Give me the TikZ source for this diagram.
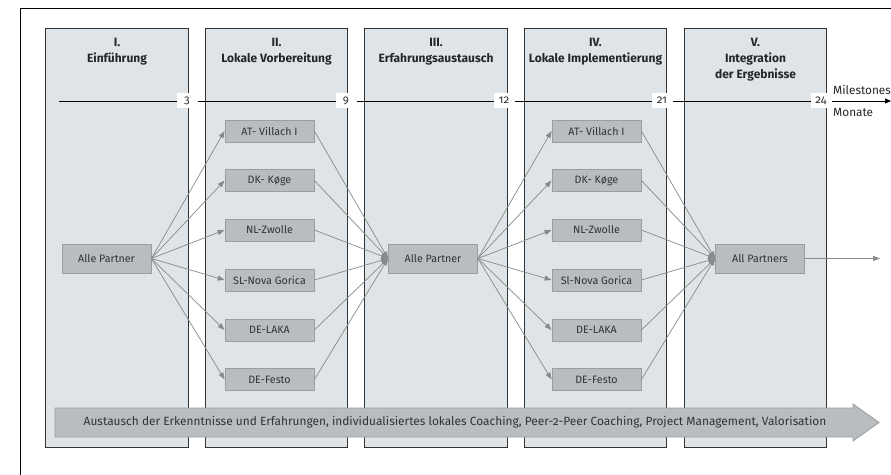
\documentclass[tikz,border=0pt]{standalone}
\usepackage{fontspec}
\setmainfont{Fira Sans}[Numbers=OldStyle]
\usetikzlibrary{arrows.meta}
\definecolor{colfill}{HTML}{DEE4E7}
\definecolor{boxfill}{HTML}{B9BDBF}
\definecolor{boxdraw}{HTML}{9A9EA0}
\definecolor{arrcol}{HTML}{868A8C}
\definecolor{txt}{HTML}{333333}
\tikzset{
  column/.style={draw=black!80, line width=0.9pt, fill=colfill, minimum width=142.5pt, minimum height=419pt, inner sep=0pt},
  title/.style={font=\bfseries\fontsize{12}{16}\selectfont, text=black!85, align=center, anchor=north, inner sep=0pt},
  partner/.style={draw=boxdraw, line width=0.8pt, fill=boxfill, minimum width=89pt, minimum height=22pt, inner sep=0pt, font=\fontsize{10.7}{12}\selectfont, text=txt},
  allp/.style={partner, minimum height=29pt},
  flow/.style={draw=arrcol, line width=0.7pt, -{Triangle[length=7pt,width=5pt]}},
  mlabel/.style={fill=white, inner sep=0pt, minimum width=21pt, minimum height=15pt, font=\fontsize{11.5}{12}\selectfont, text=txt},
  side/.style={font=\fontsize{11.8}{13}\selectfont, text=black!85, anchor=west, inner sep=0pt}
}
\begin{document}
\begin{tikzpicture}[x=1pt,y=-1pt]
\useasboundingbox (0,0) rectangle (891,474);
\fill[white] (0,0) rectangle (891,474);
% outer frame
\draw[line width=1pt, black] (20,480) -- (20,8) -- (900,8);
% columns
\node[column] (c1) at (117,237.5) {};
\node[column] (c2) at (276.5,237.5) {};
\node[column] (c3) at (436,237.5) {};
\node[column] (c4) at (595.5,237.5) {};
\node[column] (c5) at (755.5,237.5) {};
% titles
\node[title] (t1) at (117,37.5) {I.\\Einführung};
\node[title] (t2) at (276.5,37.5) {II.\\Lokale Vorbereitung};
\node[title] (t3) at (436,37.5) {III.\\Erfahrungsaustausch};
\node[title] (t4) at (595.5,37.5) {IV.\\Lokale Implementierung};
\node[title] (t5) at (755.5,37.5) {V.\\Integration\\der Ergebnisse};
% milestone line
\coordinate (ms) at (59,101);
\coordinate (me) at (891,101);
\draw[line width=0.9pt, black, -{Triangle[length=6pt,width=5pt]}] (ms) -- (me);
\node[mlabel] (m1) at (187,100.5) {3};
\node[mlabel] (m2) at (346,100.5) {9};
\node[mlabel] (m3) at (504,100.5) {12};
\node[mlabel] (m4) at (662,100.5) {21};
\node[mlabel] (m5) at (821,100.5) {24};
\node[side] (mst) at (833,90) {Milestones};
\node[side] (mon) at (833,113) {Monate};
% partner boxes
\node[allp] (ap1) at (106.5,258.5) {Alle Partner};
\node[allp] (ap3) at (433,258.5) {Alle Partner};
\node[allp] (ap5) at (760,258.5) {All Partners};
\foreach \n/\t/\y in {a/AT- Villach I/131, b/DK- Køge/180.5, c/NL-Zwolle/230, d/SL-Nova Gorica/280, e/DE-LAKA/330, f/DE-Festo/379.5} {
  \node[partner] (l\n) at (269.5,\y) {\t};
}
\foreach \n/\t/\y in {a/AT- Villach I/131, b/DK- Køge/180.5, c/NL-Zwolle/230, d/Sl-Nova Gorica/280, e/DE-LAKA/330, f/DE-Festo/379.5} {
  \node[partner] (i\n) at (596.5,\y) {\t};
}
\foreach \n in {a,b,c,d,e,f} {
  \draw[flow] (ap1.east) -- (l\n.west);
  \draw[flow] (l\n.east) -- (ap3.west);
  \draw[flow] (ap3.east) -- (i\n.west);
  \draw[flow] (i\n.east) -- (ap5.west);
}
\coordinate (out) at (880,258.5);
\draw[flow] (ap5.east) -- (out);
% bottom arrow
\draw[draw=boxdraw, line width=0.8pt, fill=boxfill] (55,408) -- (853,408) -- (853,404) -- (879,422.5) -- (853,441) -- (853,437) -- (55,437) -- cycle;
\node[font=\fontsize{11.9}{13}\selectfont, text=txt, inner sep=0pt] (bar) at (455,422.5) {Austausch der Erkenntnisse und Erfahrungen, individualisiertes lokales Coaching, Peer-2-Peer Coaching, Project Management, Valorisation};
\end{tikzpicture}
\end{document}
